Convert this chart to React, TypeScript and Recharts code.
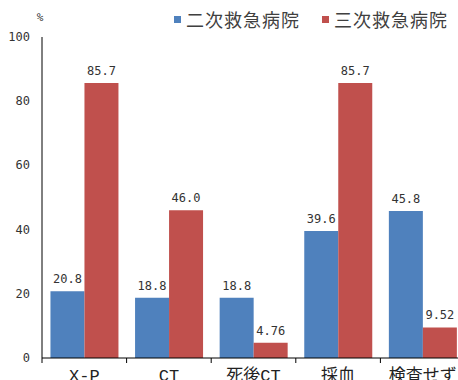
import React from 'react';
import { BarChart, Bar, XAxis, YAxis, Legend, LabelList } from 'recharts';

const categories = ['X-P', 'CT', '死後CT', '採血', '検査せず'];
const secondaryValues = [20.8, 18.8, 18.8, 39.6, 45.8];
const tertiaryValues = [85.7, 46.0, 4.76, 85.7, 9.52];
const secondaryLabels = ['20.8', '18.8', '18.8', '39.6', '45.8'];
const tertiaryLabels = ['85.7', '46.0', '4.76', '85.7', '9.52'];
const yTicks = [0, 20, 40, 60, 80, 100];
const seriesNames = ['二次救急病院', '三次救急病院'];
const colors = ['#4F81BD', '#C0504D'];

const data = categories.map((c, i) => ({
  name: c,
  secondary: secondaryValues[i],
  tertiary: tertiaryValues[i],
  secondaryLabel: secondaryLabels[i],
  tertiaryLabel: tertiaryLabels[i],
}));

const numFont = '"DejaVu Sans Mono", monospace';
const catFont = '"Liberation Mono", "Noto Sans CJK JP", monospace';

const CatTick = (props: any) => {
  const { x, y, payload } = props;
  const off = payload && payload.offset ? payload.offset : 0;
  return (
    <g>
      <line x1={x - off} x2={x - off} y1={y} y2={y + 5} stroke="#000" strokeWidth={1} />
      <text x={x} y={y + 23} textAnchor="middle" fontSize={17} fontFamily={catFont} fill="#222">
        {payload.value}
      </text>
    </g>
  );
};

const YTick = (props: any) => {
  const { x, y, payload } = props;
  return (
    <text x={x} y={y + 4} textAnchor="end" fontSize={12} fontFamily={numFont} fill="#333">
      {payload.value}
    </text>
  );
};

const LegendContent = () => (
  <div style={{ display: 'flex', alignItems: 'center', fontFamily: '"Noto Sans CJK JP", sans-serif', fontSize: 18, color: '#404040', whiteSpace: 'nowrap' }}>
    {seriesNames.map((n, i) => (
      <div key={n} style={{ display: 'flex', alignItems: 'center', marginRight: i === 0 ? 22 : 0 }}>
        <span style={{ display: 'inline-block', width: 7, height: 7, background: colors[i], marginRight: 5 }} />
        <span style={{ letterSpacing: 1 }}>{n}</span>
      </div>
    ))}
  </div>
);

export default function App() {
  return (
    <div style={{ position: 'absolute', left: 0, top: 0, width: 458, height: 380, overflow: 'hidden', background: '#fff' }}>
      <BarChart
        width={470}
        height={380}
        data={data}
        margin={{ top: 37, right: 5, left: 0, bottom: 0 }}
        barCategoryGap="10%"
        barGap={0}
      >
        <text x={40} y={21} fontSize={11} fontFamily={numFont} fill="#333" textAnchor="middle">%</text>
        <XAxis
          dataKey="name"
          height={22}
          tickLine={false}
          tickSize={0}
          tickMargin={0}
          axisLine={{ stroke: '#000' }}
          tick={<CatTick />}
          interval={0}
        />
        <YAxis
          width={42}
          domain={[0, 100]}
          ticks={yTicks}
          tickLine={false}
          tickSize={0}
          tickMargin={12}
          axisLine={{ stroke: '#000' }}
          tick={<YTick />}
        />
        <Legend
          verticalAlign="middle"
          align="center"
          layout="horizontal"
          content={<LegendContent />}
          wrapperStyle={{ position: 'absolute', top: 6, left: 174, width: 290 }}
        />
        <Bar dataKey="secondary" name={seriesNames[0]} fill={colors[0]} isAnimationActive={false}>
          <LabelList dataKey="secondaryLabel" position="top" offset={8} fontSize={12} fontFamily={numFont} fill="#333" />
        </Bar>
        <Bar dataKey="tertiary" name={seriesNames[1]} fill={colors[1]} isAnimationActive={false}>
          <LabelList dataKey="tertiaryLabel" position="top" offset={8} fontSize={12} fontFamily={numFont} fill="#333" />
        </Bar>
      </BarChart>
    </div>
  );
}
